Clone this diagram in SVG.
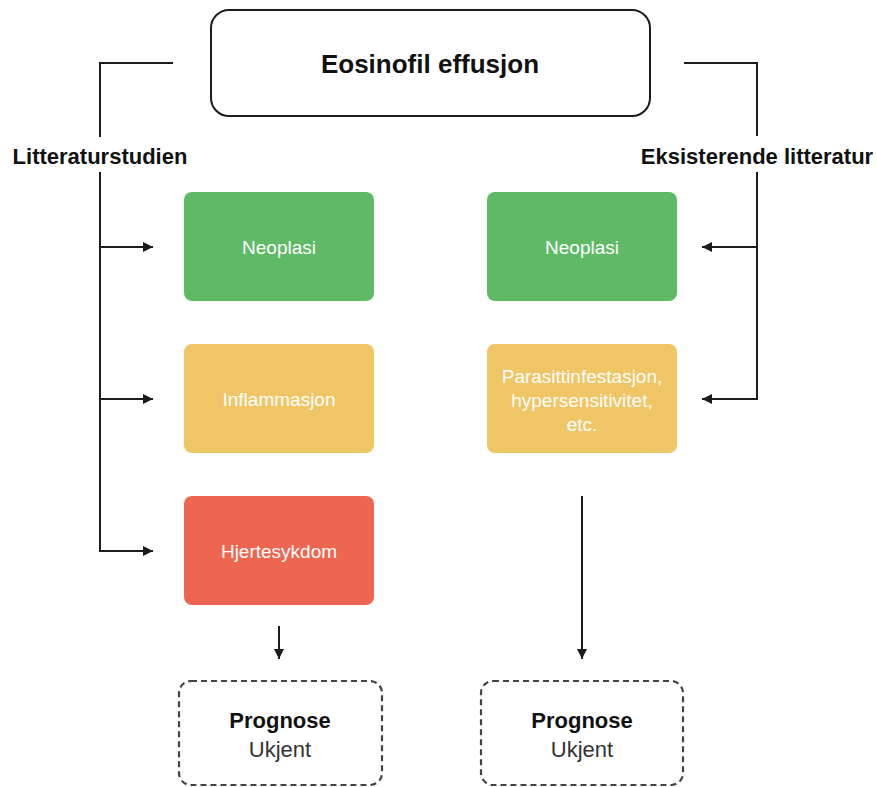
<svg xmlns="http://www.w3.org/2000/svg" width="877" height="787" viewBox="0 0 877 787">
  <style>
    .line { fill: none; stroke: #1c1c1c; stroke-width: 2; }
    .title { font-family: "Liberation Sans", Arial, sans-serif; font-size: 26px; font-weight: bold; fill: #111; }
    .branch { font-family: "Liberation Sans", Arial, sans-serif; font-size: 22px; font-weight: bold; fill: #111; }
    .cat { font-family: "Liberation Sans", Arial, sans-serif; font-size: 19px; fill: #ffffff; }
    .prog { font-family: "Liberation Sans", Arial, sans-serif; font-size: 22px; font-weight: bold; fill: #111; }
    .unk { font-family: "Liberation Sans", Arial, sans-serif; font-size: 22px; fill: #333; }
    .green { fill: #5fba66; }
    .yellow { fill: #f0c565; }
    .red { fill: #ee6550; }
    .dashed { fill: none; stroke: #444; stroke-width: 2.2; stroke-dasharray: 6 4; }
  </style>
  <defs>
    <marker id="arrow" viewBox="0 0 10 10" refX="10" refY="5" markerWidth="5" markerHeight="5" orient="auto" markerUnits="strokeWidth">
      <path d="M0,0 L10,5 L0,10 z" fill="#1c1c1c"/>
    </marker>
  </defs>
  <rect width="877" height="787" fill="#ffffff"/>

  <!-- connectors -->
  <g id="connectors">
    <!-- left branch -->
    <polyline class="line" points="173,63 100,63 100,137"/>
    <line class="line" x1="100" y1="172" x2="100" y2="551"/>
    <line class="line" x1="100" y1="247" x2="153" y2="247" marker-end="url(#arrow)"/>
    <line class="line" x1="100" y1="399" x2="153" y2="399" marker-end="url(#arrow)"/>
    <line class="line" x1="99" y1="551" x2="153" y2="551" marker-end="url(#arrow)"/>
    <!-- right branch -->
    <polyline class="line" points="684,63 757,63 757,136"/>
    <line class="line" x1="757" y1="172" x2="757" y2="400"/>
    <line class="line" x1="757" y1="247" x2="702" y2="247" marker-end="url(#arrow)"/>
    <line class="line" x1="758" y1="399" x2="702" y2="399" marker-end="url(#arrow)"/>
    <!-- to prognosis -->
    <line class="line" x1="279" y1="626" x2="279" y2="659" marker-end="url(#arrow)"/>
    <line class="line" x1="582" y1="496" x2="582" y2="659" marker-end="url(#arrow)"/>
  </g>

  <!-- branch labels -->
  <text class="branch" x="100" y="164" text-anchor="middle">Litteraturstudien</text>
  <text class="branch" x="757" y="164" text-anchor="middle">Eksisterende litteratur</text>

  <g id="root">
    <rect x="211" y="10" width="439" height="106" rx="18" fill="#fff" stroke="#1c1c1c" stroke-width="2"/>
    <text class="title" x="430" y="73" text-anchor="middle">Eosinofil effusjon</text>
  </g>

  <g id="left-neoplasi">
    <rect class="green" x="184" y="192" width="190" height="109" rx="8"/>
    <text class="cat" x="279" y="254" text-anchor="middle">Neoplasi</text>
  </g>
  <g id="left-inflammasjon">
    <rect class="yellow" x="184" y="344" width="190" height="109" rx="8"/>
    <text class="cat" x="279" y="406" text-anchor="middle">Inflammasjon</text>
  </g>
  <g id="left-hjertesykdom">
    <rect class="red" x="184" y="496" width="190" height="109" rx="8"/>
    <text class="cat" x="279" y="558" text-anchor="middle">Hjertesykdom</text>
  </g>

  <g id="right-neoplasi">
    <rect class="green" x="487" y="192" width="190" height="109" rx="8"/>
    <text class="cat" x="582" y="254" text-anchor="middle">Neoplasi</text>
  </g>
  <g id="right-parasitt">
    <rect class="yellow" x="487" y="344" width="190" height="109" rx="8"/>
    <text class="cat" x="582" y="383" text-anchor="middle">Parasittinfestasjon,</text>
    <text class="cat" x="582" y="407" text-anchor="middle">hypersensitivitet,</text>
    <text class="cat" x="582" y="431" text-anchor="middle">etc.</text>
  </g>

  <g id="left-prognose">
    <rect class="dashed" x="179" y="681" width="203" height="104" rx="12"/>
    <text class="prog" x="280" y="728" text-anchor="middle">Prognose</text>
    <text class="unk" x="280" y="757" text-anchor="middle">Ukjent</text>
  </g>
  <g id="right-prognose">
    <rect class="dashed" x="481" y="681" width="202" height="104" rx="12"/>
    <text class="prog" x="582" y="728" text-anchor="middle">Prognose</text>
    <text class="unk" x="582" y="757" text-anchor="middle">Ukjent</text>
  </g>
</svg>
